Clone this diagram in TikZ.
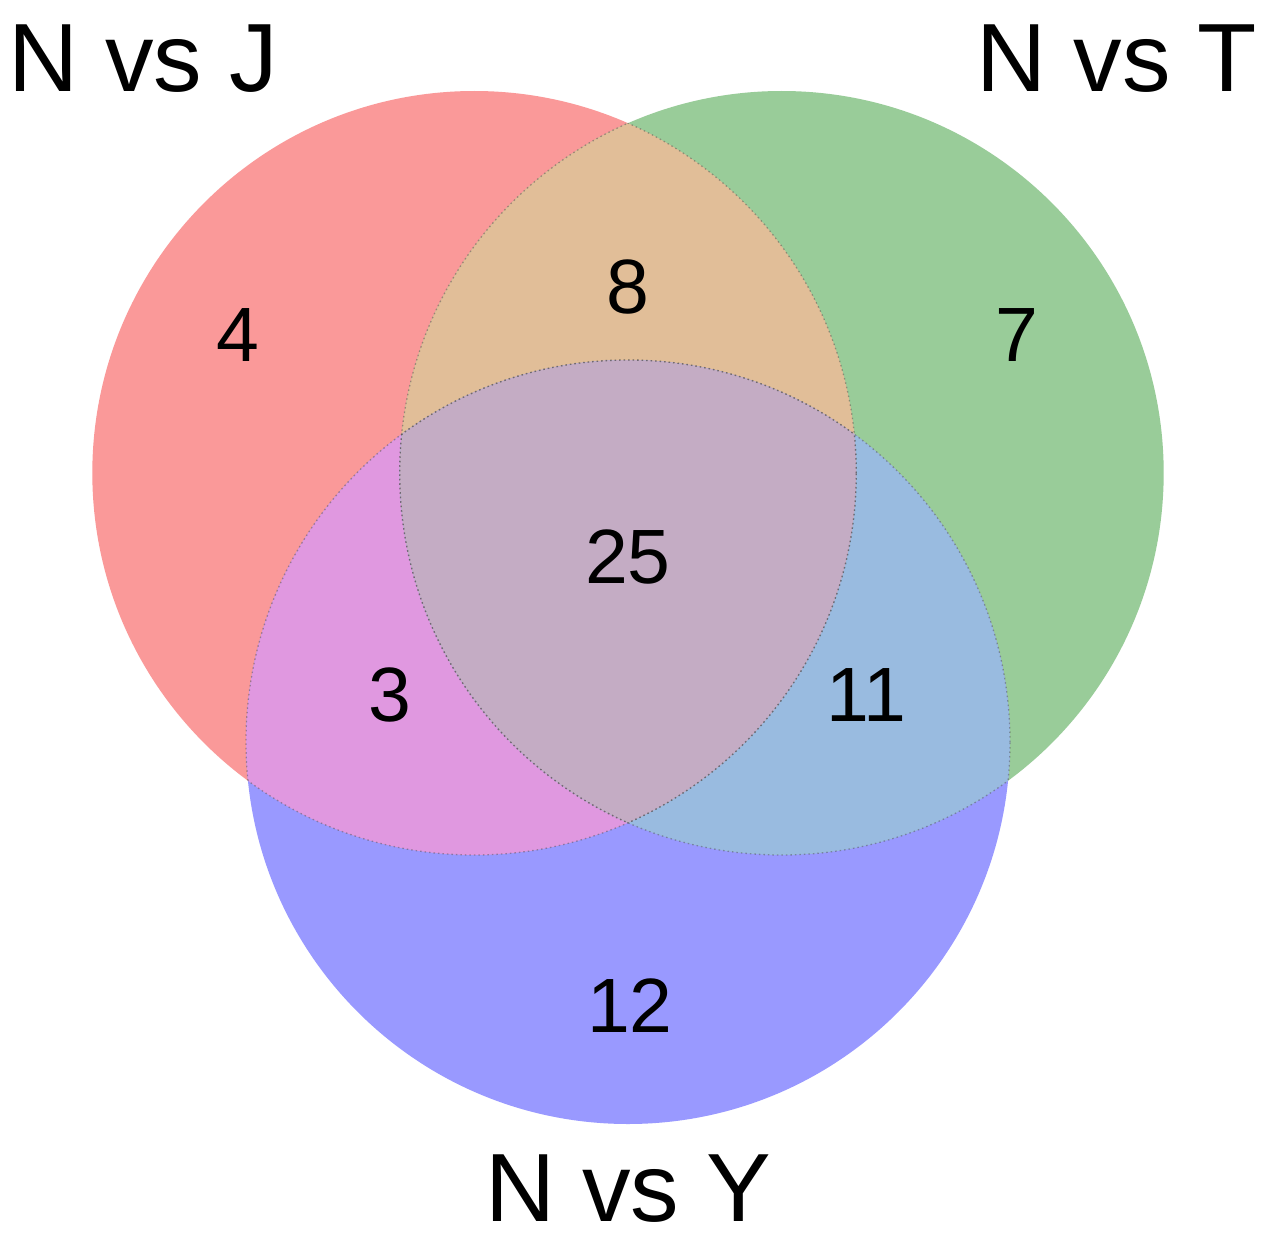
\documentclass[tikz,border=0pt]{standalone}
\usepackage{fontspec}
\setmainfont{Liberation Sans}
\definecolor{cJ}{RGB}{250,153,153}
\definecolor{cT}{RGB}{153,204,153}
\definecolor{cY}{RGB}{153,153,255}
\definecolor{cJT}{RGB}{225,190,152}
\definecolor{cJY}{RGB}{224,152,224}
\definecolor{cTY}{RGB}{153,187,224}
\definecolor{cJTY}{RGB}{196,172,196}
% the three sets
\newcommand\circJ{(474.3,473) circle [radius=382pt]}
\newcommand\circT{(781.7,473) circle [radius=382pt]}
\newcommand\circY{(628,742) circle [radius=382pt]}
\begin{document}
\begin{tikzpicture}[x=1pt,y=-1pt,
  setlabel/.style={anchor=base,inner sep=0pt,font=\fontsize{97}{97}\selectfont},
  count/.style={anchor=base,inner sep=0pt,font=\fontsize{77}{77}\selectfont},
  border/.style={draw=black!70,opacity=0.45,line width=1.3pt,dash pattern=on 1.5pt off 3pt}]
\useasboundingbox (0,0) rectangle (1261,1236);
\fill[white] (0,0) rectangle (1261,1236);
% single regions
\fill[cJ] \circJ;
\fill[cT] \circT;
\fill[cY] \circY;
% pairwise overlaps
\begin{scope}\clip \circJ; \fill[cJT] \circT; \end{scope}
\begin{scope}\clip \circJ; \fill[cJY] \circY; \end{scope}
\begin{scope}\clip \circT; \fill[cTY] \circY; \end{scope}
% triple overlap
\begin{scope}\clip \circJ; \clip \circT; \fill[cJTY] \circY; \end{scope}
% faint edges inside the overlaps
\begin{scope}\clip \circT; \draw[border] \circJ; \end{scope}
\begin{scope}\clip \circY; \draw[border] \circJ; \end{scope}
\begin{scope}\clip \circJ; \draw[border] \circT; \end{scope}
\begin{scope}\clip \circY; \draw[border] \circT; \end{scope}
\begin{scope}\clip \circJ; \draw[border] \circY; \end{scope}
\begin{scope}\clip \circT; \draw[border] \circY; \end{scope}
% set names
\node[setlabel] (lJ) at (143,92) {N vs J};
\node[setlabel] (lT) at (1117,92) {N vs T};
\node[setlabel] (lY) at (628,1221) {N vs Y};
% counts
\node[count] (nJ) at (238,361) {4};
\node[count] (nJT) at (628,313) {8};
\node[count] (nT) at (1017,361) {7};
\node[count] (nJTY) at (628,583) {25};
\node[count] (nJY) at (390,721) {3};
\node[count] (nTY) at (866,721) {11};
\node[count] (nY) at (630,1032) {12};
\end{tikzpicture}
\end{document}
